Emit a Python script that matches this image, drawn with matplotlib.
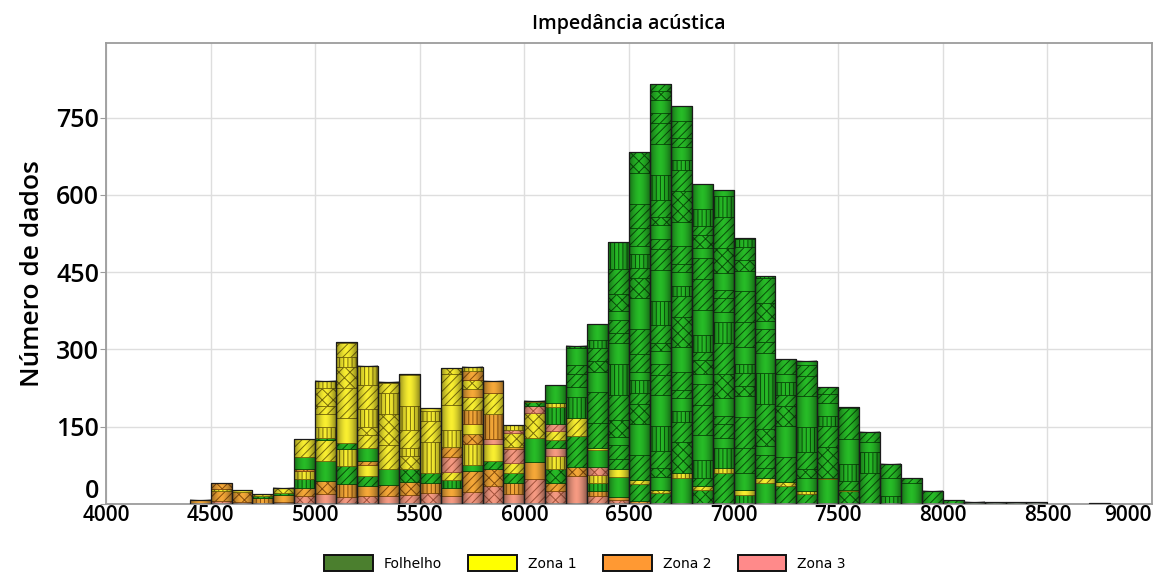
import numpy as np
import matplotlib
matplotlib.use("Agg")
import matplotlib.pyplot as plt
from matplotlib.patches import Patch, Rectangle

# Histogram bins (left edges, width 100) of acoustic impedance
bin_left = [4400, 4500, 4600, 4700, 4800, 4900, 5000, 5100, 5200, 5300, 5400,
            5500, 5600, 5700, 5800, 5900, 6000, 6100, 6200, 6300, 6400, 6500,
            6600, 6700, 6800, 6900, 7000, 7100, 7200, 7300, 7400, 7500, 7600,
            7700, 7800, 7900, 8000, 8100, 8200, 8300, 8400, 8500, 8600, 8700]
bin_width = 100

# Counts per lithology class in each bin
folhelho = [0, 0, 0, 3, 4, 40, 45, 45, 45, 30, 25,
            20, 15, 12, 15, 20, 55, 110, 200, 290, 480, 670,
            808, 760, 612, 600, 505, 432, 272, 273, 224, 186, 140,
            78, 50, 26, 7, 4, 3, 3, 3, 0, 0, 1]
zona1 = [0, 4, 3, 4, 10, 50, 150, 230, 180, 170, 185,
         125, 170, 110, 75, 55, 50, 50, 35, 20, 15, 8,
         5, 10, 7, 8, 10, 10, 9, 5, 3, 2, 0,
         0, 0, 0, 0, 0, 0, 0, 0, 0, 0, 0]
zona2 = [8, 30, 20, 12, 14, 20, 25, 25, 28, 22, 25,
         20, 35, 120, 105, 25, 33, 15, 17, 9, 5, 3,
         2, 2, 2, 1, 1, 0, 0, 0, 0, 0, 0,
         0, 0, 0, 0, 0, 0, 0, 0, 0, 0, 0]
zona3 = [0, 6, 4, 0, 4, 16, 19, 14, 15, 15, 17,
         21, 44, 24, 44, 53, 62, 56, 55, 30, 8, 2,
         0, 0, 0, 0, 0, 0, 0, 0, 0, 0, 0,
         0, 0, 0, 0, 0, 0, 0, 0, 0, 0, 0]

class_names = ["Folhelho", "Zona 1", "Zona 2", "Zona 3"]
class_counts = {"Folhelho": folhelho, "Zona 1": zona1,
                "Zona 2": zona2, "Zona 3": zona3}

x_ticks = [4000, 4500, 5000, 5500, 6000, 6500, 7000, 7500, 8000, 8500, 9000]
y_ticks = [0, 150, 300, 450, 600, 750]

# Styling
face = {"Folhelho": "#27bb27", "Zona 1": "#f8ee30",
        "Zona 2": "#f5a838", "Zona 3": "#f59a82"}
dark = {"Folhelho": "#0a520a", "Zona 1": "#7d6f0c",
        "Zona 2": "#8a4f0e", "Zona 3": "#a4533c"}
legend_face = {"Folhelho": "#4b7f2e", "Zona 1": "#ffff00",
               "Zona 2": "#ff9933", "Zona 3": "#ff8a8a"}
hatches = {"Folhelho": ["////", "////", "", "xxx", "////", "||||", ""],
           "Zona 1": ["////", "||||", "", "////", "xxx", "||||"],
           "Zona 2": ["", "////", "xxx", "||||"],
           "Zona 3": ["", "////", "xxx"]}
band_sizes = [34, 20, 48, 26, 60, 16, 40]
stack_order = ["Zona 3", "Zona 2", "Folhelho", "Zona 1"]

plt.rcParams["font.family"] = ["Open Sans", "DejaVu Sans"]
plt.rcParams["hatch.linewidth"] = 0.7

fig = plt.figure(figsize=(11.71, 5.77), dpi=100)
ax = fig.add_axes([106 / 1171, 73 / 577, 1046 / 1171, 461 / 577])

ax.set_xlim(4000, 9000)
ax.set_ylim(0, 895)
ax.set_axisbelow(True)
ax.grid(True, color="#dedede", linewidth=1.0)

# horizontal shading across each bar (darker at the sides)
t = np.linspace(0, 1, 64)
shade = np.zeros((1, 64, 4))
shade[0, :, 3] = 0.42 * np.abs(2 * t - 1) ** 1.6

for i, x0 in enumerate(bin_left):
    # split each class into bands and interleave them up the bar
    remaining = {c: class_counts[c][i] for c in stack_order}
    used = {c: 0 for c in stack_order}
    pieces = []
    k = 0
    while any(v > 0 for v in remaining.values()):
        for c in stack_order:
            if remaining[c] > 0:
                size = band_sizes[(k + i + used[c]) % len(band_sizes)]
                h = min(size, remaining[c])
                pieces.append((c, h, hatches[c][(used[c] + i) % len(hatches[c])]))
                remaining[c] -= h
                used[c] += 1
        k += 1
    bottom = 0
    for c, h, hp in pieces:
        ax.bar(x0, h, width=bin_width, bottom=bottom, align="edge",
               color=face[c], edgecolor=dark[c], linewidth=0.6, hatch=hp,
               zorder=2)
        bottom += h
    total = bottom
    if total > 0:
        ax.imshow(shade, extent=(x0, x0 + bin_width, 0, total), aspect="auto",
                  interpolation="bilinear", zorder=3)
        ax.add_patch(Rectangle((x0, 0), bin_width, total, fill=False,
                               edgecolor="#1b1b1b", linewidth=0.9, zorder=4))

ax.set_xlim(4000, 9000)
ax.set_ylim(0, 895)

for s in ax.spines.values():
    s.set_color("#9c9c9c")
    s.set_linewidth(1.3)

ax.set_xticks(x_ticks)
ax.set_yticks(y_ticks)
ax.set_xticklabels([str(v) for v in x_ticks], fontsize=15, fontweight="semibold")
ax.set_yticklabels([str(v) for v in y_ticks], fontsize=18, fontweight="semibold")
ax.tick_params(axis="x", length=0, pad=1)
ax.tick_params(axis="y", length=4, pad=1, color="#9c9c9c")
ax.get_yticklabels()[0].set_va("bottom")
ax.get_xticklabels()[-1].set_ha("right")

ax.set_ylabel("Número de dados", fontsize=19, fontweight="semibold", labelpad=8)
ax.set_title("Impedância acústica", fontsize=14, fontweight="semibold", pad=10)

handles = [Patch(facecolor=legend_face[c], edgecolor="#111111", linewidth=1.4)
           for c in class_names]
fig.legend(handles, class_names, loc="center", bbox_to_anchor=(585 / 1171, 14 / 577),
           ncol=4, frameon=False, prop={"family": "DejaVu Sans", "size": 10},
           handlelength=3.5, handleheight=1.45, handletextpad=0.8,
           columnspacing=1.9)

fig.savefig("out.png", dpi=100)
